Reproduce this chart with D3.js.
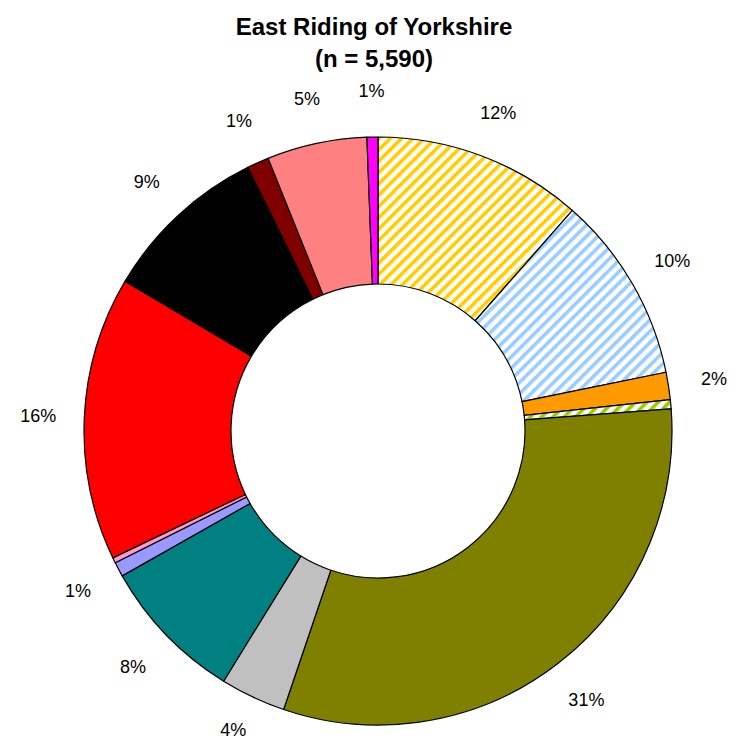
<!DOCTYPE html>
<html>
<head>
<meta charset="utf-8">
<script src="https://cdnjs.cloudflare.com/ajax/libs/d3/7.8.5/d3.min.js"></script>
<style>
  body { margin: 0; background: #fff; }
  svg { display: block; }
</style>
</head>
<body>
<div id="chart"></div>
<script>
// data (shares of n = 5,590, clockwise from 12 o'clock)
var categories = ['Group 1', 'Group 2', 'Group 3', 'Group 4', 'Group 5', 'Group 6', 'Group 7',
                  'Group 8', 'Group 9', 'Group 10', 'Group 11', 'Group 12', 'Group 13', 'Group 14'];
var shares = [11.5, 10.3, 1.5, 0.5, 31.4, 3.6, 8.0, 0.8, 0.3, 15.6, 9.2, 1.2, 5.5, 0.6];
var labels = ['12%', '10%', '2%', '', '31%', '4%', '8%', '1%', '', '16%', '9%', '1%', '5%', '1%'];
var fills = ['hatch-yellow', 'hatch-blue', '#FF9900', 'hatch-green', '#808000', '#C0C0C0', '#008080',
             '#9999FF', '#FF99CC', '#FF0000', '#000000', '#800000', '#FF8080', '#FF00FF'];
var titleLines = ['East Riding of Yorkshire', '(n = 5,590)'];

//layout
var fv = {
  'width': 738,
  'height': 742,
  'cx': 378,
  'cy': 431,
  'outerRadius': 294,
  'innerRadius': 147,
  'labelRadius': 340
};

var svg = d3.select('#chart').append('svg')
  .attr('width', fv.width)
  .attr('height', fv.height);

//hatch patterns
var defs = svg.append('defs');
var hatches = [['hatch-yellow', '#FFCC00'], ['hatch-blue', '#99CCFF'], ['hatch-green', '#99CC00']];
hatches.forEach(function(h) {
  var p = defs.append('pattern')
    .attr('id', h[0])
    .attr('patternUnits', 'userSpaceOnUse')
    .attr('width', 8)
    .attr('height', 8)
    .attr('patternTransform', 'rotate(45)');
  p.append('rect').attr('width', 8).attr('height', 8).attr('fill', '#fff');
  p.append('rect').attr('width', 3.6).attr('height', 8).attr('fill', h[1]);
});

//title
svg.append('g').selectAll('text')
  .data(titleLines)
  .enter().append('text')
  .attr('x', 374)
  .attr('y', function(d, i) { return 35 + i * 32; })
  .attr('text-anchor', 'middle')
  .style('font-family', 'Liberation Sans, Arial, sans-serif')
  .style('font-weight', 'bold')
  .style('font-size', '24px')
  .text(function(d) { return d; });

var g = svg.append('g')
  .attr('transform', 'translate(' + fv.cx + ',' + fv.cy + ')');

var pie = d3.pie().sort(null).value(function(d) { return d; });
var arcs = pie(shares);

var arc = d3.arc()
  .innerRadius(fv.innerRadius)
  .outerRadius(fv.outerRadius);

var labelArc = d3.arc()
  .innerRadius(fv.labelRadius)
  .outerRadius(fv.labelRadius);

//slices
g.selectAll('.slice')
  .data(arcs)
  .enter().append('path')
  .attr('class', 'slice')
  .attr('d', arc)
  .attr('fill', function(d, i) {
    return fills[i].charAt(0) === '#' ? fills[i] : 'url(#' + fills[i] + ')';
  })
  .attr('stroke', '#000')
  .attr('stroke-width', 1.2)
  .attr('stroke-linejoin', 'round')
  .append('title')
  .text(function(d, i) { return categories[i]; });

//labels (kept inside the bottom edge)
g.selectAll('.label')
  .data(arcs)
  .enter().append('text')
  .attr('class', 'label')
  .attr('transform', function(d) {
    var c = labelArc.centroid(d);
    var maxY = fv.height - 12 - fv.cy;
    return 'translate(' + c[0] + ',' + Math.min(c[1], maxY) + ')';
  })
  .attr('dy', '0.35em')
  .attr('text-anchor', 'middle')
  .style('font-family', 'Liberation Sans, Arial, sans-serif')
  .style('font-size', '18px')
  .style('fill', '#000')
  .text(function(d, i) { return labels[i]; });
</script>
</body>
</html>
